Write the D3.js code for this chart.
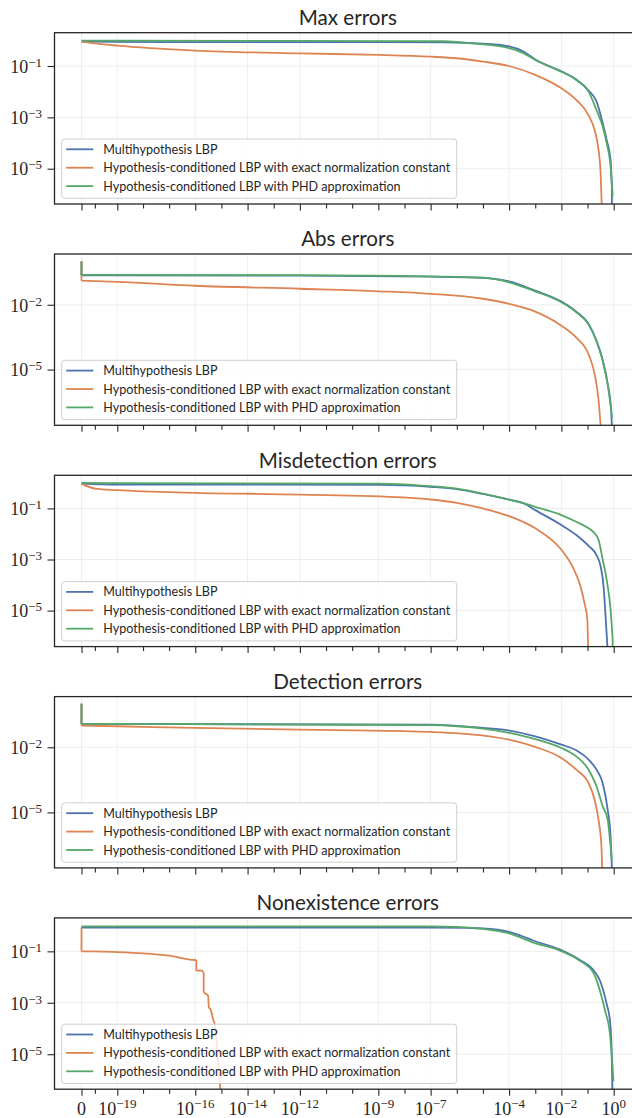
<!DOCTYPE html>
<html><head><meta charset="utf-8">
<script src="https://cdn.jsdelivr.net/npm/d3@7"></script>
<style>body{margin:0;background:#fff} svg{display:block}</style>
</head><body><svg id="c" width="632" height="1118"></svg>
<script>
// ---------------- data ----------------
const panelTitles = ["Max errors", "Abs errors", "Misdetection errors", "Detection errors", "Nonexistence errors"];
const seriesNames = ["Multihypothesis LBP",
  "Hypothesis-conditioned LBP with exact normalization constant",
  "Hypothesis-conditioned LBP with PHD approximation"];
const seriesColors = ["#4C72B0", "#DD8452", "#55A868"];
const xMajorTicks = [0, 1e-19, 1e-16, 1e-14, 1e-12, 1e-9, 1e-7, 1e-4, 1e-2, 1];
const xMajorExps = [null, -19, -16, -14, -12, -9, -7, -4, -2, 0];
const xMinorTicks = [1e-20, 1e-18, 1e-17, 1e-15, 1e-13, 1e-11, 1e-10, 1e-8, 1e-6, 1e-5, 1e-3, 1e-1];
const yTickExps = [[-1, -3, -5], [-2, -5], [-1, -3, -5], [-2, -5], [-1, -3, -5]];
const yLimitExps = [[-6.375, 0.297], [-7.58, 0.35], [-6.41, 0.297], [-7.556, 0.335], [-6.36, 0.30]];

// [threshold, fraction] pairs
const maxMulti = [[0,0.89],[1e-19,0.87],[1e-16,0.85],[1e-9,0.85],[3.2e-7,0.84],[1e-5,0.74],[1e-4,0.58],[3.7e-4,0.36],[1e-3,0.18],[1e-2,0.062],[0.037,0.03],[0.11,0.011],[0.22,4.2e-3],[0.38,6e-4],[0.54,1.3e-4],[0.76,2.2e-5],[0.85,2e-6],[0.85,0]];
const maxExact = [[0,0.89],[1e-20,0.76],[1e-19,0.62],[1e-16,0.4],[1e-12,0.31],[1e-9,0.27],[1e-7,0.23],[1e-6,0.2],[1e-5,0.148],[1e-4,0.1],[1e-3,0.045],[1e-2,0.0135],[0.037,4.8e-3],[0.11,1.2e-3],[0.186,3.2e-4],[0.263,5.4e-5],[0.316,6.6e-6],[0.347,0]];
const maxPHD = [[0,0.97],[1e-19,0.97],[1e-12,0.95],[3.2e-7,0.92],[3.6e-6,0.76],[1e-4,0.5],[3.7e-4,0.31],[1e-3,0.17],[1e-2,0.06],[0.037,0.0285],[0.11,0.01],[0.22,1.9e-3],[0.38,4.4e-4],[0.54,9.8e-5],[0.76,1.2e-5],[0.91,8.5e-7]];

const absMulti = [[0,1],[0,0.23],[1e-19,0.23],[1e-12,0.225],[1e-7,0.2],[1e-5,0.175],[1e-4,0.12],[1e-3,0.045],[1e-2,0.014],[0.037,4.8e-3],[0.11,1.3e-3],[0.22,2.2e-4],[0.38,2.8e-5],[0.59,2.2e-6],[0.79,1.5e-7],[0.85,0]];
const absExact = [[0,1],[0,0.13],[1e-19,0.115],[1e-16,0.076],[1e-12,0.055],[1e-9,0.042],[1e-7,0.032],[1e-5,0.019],[1e-4,0.011],[1e-3,4.8e-3],[1e-2,1.07e-3],[0.037,3e-4],[0.11,5e-5],[0.186,6.3e-6],[0.263,4e-7],[0.316,0]];
const absPHD = [[0,1],[0,0.24],[1e-19,0.24],[1e-12,0.235],[1e-7,0.205],[1e-5,0.18],[1e-4,0.11],[1e-3,0.042],[1e-2,0.013],[0.037,4.5e-3],[0.11,1.2e-3],[0.22,2e-4],[0.38,2.5e-5],[0.59,2e-6],[0.79,1.5e-7],[0.87,6e-8]];

const misMulti = [[0,0.94],[1e-19,0.86],[1e-9,0.84],[1e-8,0.8],[1e-7,0.7],[1e-6,0.57],[1e-5,0.37],[1e-4,0.22],[3.7e-4,0.157],[1e-3,0.086],[1e-2,0.0224],[0.037,9.1e-3],[0.11,3.4e-3],[0.22,1.5e-3],[0.316,5.4e-4],[0.41,8.9e-5],[0.48,8.1e-6],[0.575,0]];
const misExact = [[0,0.94],[1e-20,0.6],[1e-19,0.52],[1e-16,0.41],[1e-12,0.35],[8.7e-9,0.27],[1e-7,0.224],[1e-6,0.166],[1e-5,0.1],[1e-4,0.05],[1e-3,0.0166],[1e-2,2.4e-3],[0.0263,5.4e-4],[0.0537,8.9e-5],[0.076,2e-5],[0.098,4.5e-6],[0.105,0]];
const misPHD = [[0,1],[1e-19,0.97],[1e-9,0.93],[1e-8,0.87],[1e-7,0.74],[1e-6,0.6],[1e-5,0.38],[1e-4,0.22],[3.7e-4,0.157],[1e-3,0.116],[1e-2,0.055],[0.037,0.03],[0.11,0.0166],[0.186,0.0106],[0.263,5.9e-3],[0.38,9.8e-4],[0.54,1.6e-4],[0.76,1.1e-5],[0.91,7.6e-7],[0.91,0]];

const detMulti = [[0,1],[0,0.119],[1e-19,0.119],[1e-7,0.111],[1e-5,0.078],[1e-4,0.059],[1e-3,0.032],[1e-2,0.0133],[0.037,7.3e-3],[0.11,2.7e-3],[0.22,9.3e-4],[0.38,2.2e-4],[0.59,1.3e-5],[0.76,7.9e-7],[0.85,0]];
const detExact = [[0,1],[0,0.1],[1e-19,0.093],[1e-16,0.078],[1e-12,0.065],[8.7e-9,0.055],[1e-7,0.051],[1e-5,0.035],[1e-4,0.0226],[1e-3,0.0104],[1e-2,3.2e-3],[0.037,9.3e-4],[0.11,2.2e-4],[0.186,3.8e-5],[0.263,4.6e-6],[0.34,2.7e-7],[0.363,0]];
const detPHD = [[0,1],[0,0.119],[1e-19,0.119],[1e-12,0.111],[1e-7,0.104],[1e-6,0.093],[1e-5,0.073],[1e-4,0.046],[1e-3,0.024],[1e-2,9.3e-3],[0.037,3.8e-3],[0.11,9.3e-4],[0.22,1.6e-4],[0.38,1.9e-5],[0.59,4.6e-6],[0.76,2.7e-7],[0.85,6e-8]];

const nonMulti = [[0,0.835],[1e-7,0.835],[2.5e-6,0.81],[1e-5,0.78],[1e-4,0.57],[2.6e-4,0.42],[7.9e-4,0.27],[8.9e-3,0.116],[0.051,0.046],[0.166,0.019],[0.30,7.2e-3],[0.54,8.9e-4],[0.72,2e-4],[0.83,1.8e-5],[0.89,0]];
const nonExact = [[0,0.86],[0,0.1],[1e-20,0.1],[1e-19,0.094],[1e-18,0.084],[1e-17,0.068],[9.5e-17,0.046],[1.1e-16,0.046],[1.1e-16,0.0177],[1.95e-16,0.0177],[1.95e-16,0.015],[2.1e-16,0.015],[2.1e-16,2.5e-3],[3.1e-16,1.87e-3],[3.3e-16,6.6e-4],[3.8e-16,5.7e-4],[4.8e-16,2.3e-4],[5.5e-16,1.47e-4],[6.5e-16,3.3e-5],[7.4e-16,5.5e-6],[8.5e-16,9e-7],[9.1e-16,0]];
const nonPHD = [[0,0.94],[1e-7,0.94],[1e-6,0.9],[1e-5,0.74],[1e-4,0.5],[7.9e-4,0.224],[8.9e-3,0.106],[0.051,0.043],[0.166,0.015],[0.30,2.9e-3],[0.47,4.9e-4],[0.72,6e-5],[0.977,9e-7]];

const panelSeries = [
  [maxMulti, maxExact, maxPHD],
  [absMulti, absExact, absPHD],
  [misMulti, misExact, misPHD],
  [detMulti, detExact, detPHD],
  [nonMulti, nonExact, nonPHD]
];

// ---------------- layout ----------------
const svg = d3.select("#c");
const defs = svg.append("defs");
const axLeft = 54.5, axRight = 641;
const panelTop0 = 32.7, panelPitch = 221.3, panelH = 171.3;
const ink = "#262626";
const sansFont = "Lato, 'Noto Sans', sans-serif";
const serifFont = "'Liberation Serif', 'DejaVu Serif', serif";

const x = d3.scaleSymlog().constant(4.46e-21).domain([0, 1]).range([81.5, 613.7]);

const probe = svg.append("text").attr("font-family", sansFont).attr("font-size", 20).text("Misdetection errors");
const titleSize = 20 * 178 / probe.node().getComputedTextLength();
probe.remove();
const probe2 = svg.append("text").attr("font-family", sansFont).attr("font-size", 12).text(seriesNames[1]);
const legendSize = 12 * 347 / probe2.node().getComputedTextLength();
probe2.remove();

function powLabel(sel, exp, baseSize, expSize, raise) {
  if (exp === null) { sel.append("tspan").attr("font-size", baseSize).text("0"); return; }
  sel.append("tspan").attr("font-size", baseSize).text("10");
  sel.append("tspan").attr("font-size", expSize).attr("dy", -raise).text(String(exp).replace("-", "\u2212"));
}

// smooth monotone runs, with straight vertical jumps where the threshold repeats
function buildPath(data, xs, ys) {
  const pts = data.map(d => [xs(d[0]), ys(d[1])]);
  const smooth = d3.line().curve(d3.curveMonotoneX);
  const straight = d3.line();
  const pieces = [];
  let run = [pts[0]];
  for (let k = 1; k < pts.length; k++) {
    if (data[k][0] === data[k - 1][0]) {
      if (run.length > 1) pieces.push(smooth(run));
      pieces.push(straight([pts[k - 1], pts[k]]));
      run = [pts[k]];
    } else run.push(pts[k]);
  }
  if (run.length > 1) pieces.push(smooth(run));
  return pieces.join("");
}

panelTitles.forEach((title, i) => {
  const top = panelTop0 + i * panelPitch, bottom = top + panelH;
  const y = d3.scaleLog()
    .domain([Math.pow(10, yLimitExps[i][0]), Math.pow(10, yLimitExps[i][1])])
    .range([bottom, top]).clamp(true);
  const g = svg.append("g");

  defs.append("clipPath").attr("id", "clip" + i)
    .append("rect").attr("x", axLeft).attr("y", top).attr("width", axRight - axLeft).attr("height", panelH);

  // grid
  g.append("g").selectAll("line").data(xMajorTicks).join("line")
    .attr("x1", d => x(d)).attr("x2", d => x(d)).attr("y1", top).attr("y2", bottom)
    .attr("stroke", "#ececec").attr("stroke-width", 0.9);
  g.append("g").selectAll("line").data(yTickExps[i]).join("line")
    .attr("x1", axLeft).attr("x2", axRight).attr("y1", d => y(Math.pow(10, d))).attr("y2", d => y(Math.pow(10, d)))
    .attr("stroke", "#ececec").attr("stroke-width", 0.9);

  // lines
  const lg = g.append("g").attr("clip-path", `url(#clip${i})`);
  panelSeries[i].forEach((s, k) => {
    lg.append("path").attr("d", buildPath(s, x, y)).attr("fill", "none")
      .attr("stroke", seriesColors[k]).attr("stroke-width", 1.8)
      .attr("stroke-linejoin", "round").attr("stroke-linecap", "butt");
  });

  // spines
  g.append("rect").attr("x", axLeft).attr("y", top).attr("width", axRight - axLeft).attr("height", panelH)
    .attr("fill", "none").attr("stroke", ink).attr("stroke-width", 1.3);

  // x axis ticks
  const xMaj = g.append("g").attr("transform", `translate(0,${bottom})`)
    .call(d3.axisBottom(x).tickValues(xMajorTicks).tickSize(6.5).tickFormat(""));
  const xMin = g.append("g").attr("transform", `translate(0,${bottom})`)
    .call(d3.axisBottom(x).tickValues(xMinorTicks).tickSize(4.5).tickFormat(""));
  [xMaj, xMin].forEach(a => {
    a.select(".domain").remove();
    a.selectAll(".tick line").attr("stroke", ink).attr("stroke-width", 1.1);
  });

  // y axis ticks
  const yAx = g.append("g").attr("transform", `translate(${axLeft},0)`)
    .call(d3.axisLeft(y).tickValues(yTickExps[i].map(e => Math.pow(10, e))).tickSize(7).tickFormat(""));
  yAx.select(".domain").remove();
  yAx.selectAll(".tick line").attr("stroke", ink).attr("stroke-width", 1.1);
  yTickExps[i].forEach(e => {
    const t = g.append("text").attr("x", axLeft - 12.5).attr("y", y(Math.pow(10, e)) + 6.8)
      .attr("text-anchor", "end").attr("font-family", serifFont).attr("fill", ink);
    powLabel(t, e, 18, 13, 6);
  });

  if (i === panelTitles.length - 1) {
    xMajorTicks.forEach((v, j) => {
      const t = g.append("text").attr("x", x(v)).attr("y", bottom + 26)
        .attr("text-anchor", "middle").attr("font-family", serifFont).attr("fill", ink);
      powLabel(t, xMajorExps[j], 18, 13, 7);
    });
  }

  // title
  g.append("text").attr("x", (axLeft + axRight) / 2).attr("y", top - 7.7)
    .attr("text-anchor", "middle").attr("font-family", sansFont).attr("font-size", titleSize)
    .attr("fill", ink).text(title);

  // legend
  const lgX = 61.7, lgW = 395, lgH = 59.3, lgY = bottom - 5.7 - lgH;
  const leg = g.append("g");
  leg.append("rect").attr("x", lgX).attr("y", lgY).attr("width", lgW).attr("height", lgH)
    .attr("rx", 3).attr("fill", "#ffffff").attr("fill-opacity", 0.8)
    .attr("stroke", "#d0d0d0").attr("stroke-width", 1);
  seriesNames.forEach((name, k) => {
    const cy = lgY + 10.3 + k * 18.4;
    leg.append("line").attr("x1", lgX + 4.5).attr("x2", lgX + 31.5).attr("y1", cy).attr("y2", cy)
      .attr("stroke", seriesColors[k]).attr("stroke-width", 1.8);
    leg.append("text").attr("x", lgX + 41.6).attr("y", cy + legendSize * 0.36)
      .attr("font-family", sansFont).attr("font-size", legendSize).attr("fill", ink).text(name);
  });
});
</script>
</body></html>
